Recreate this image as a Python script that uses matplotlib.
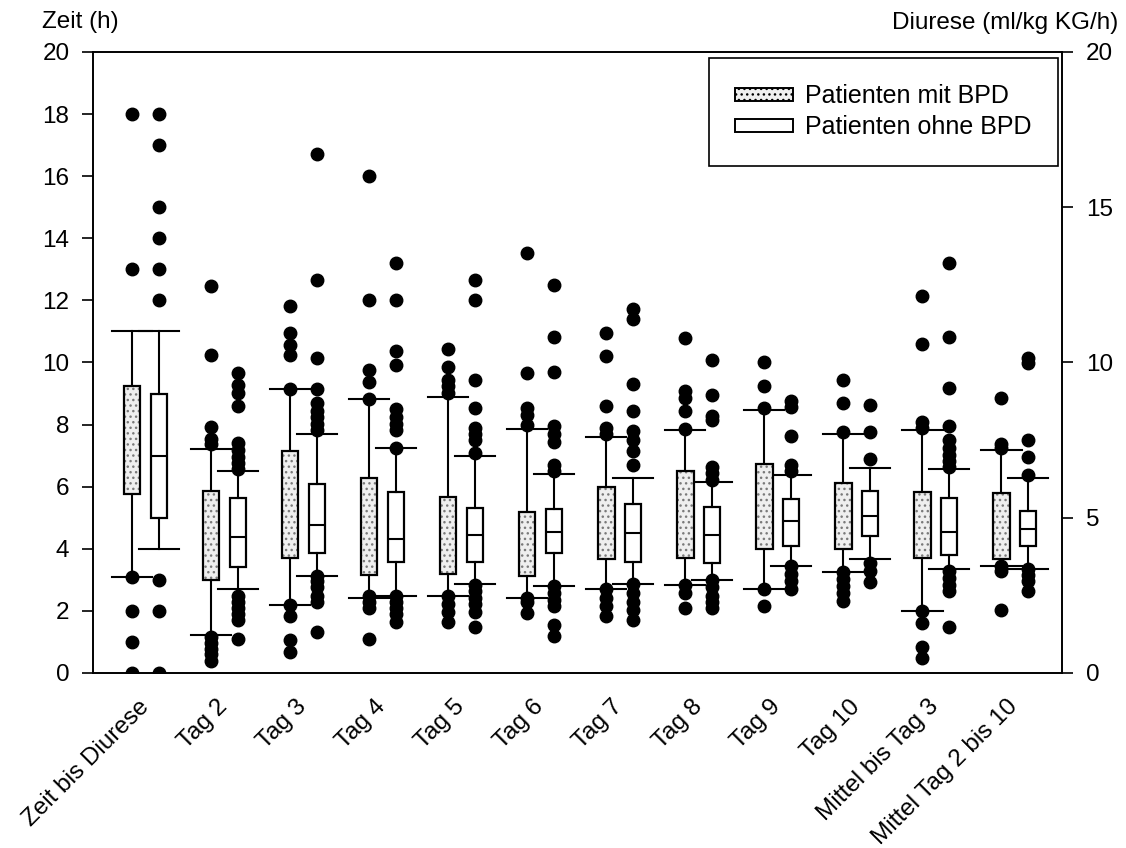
import matplotlib.pyplot as plt
from matplotlib.patches import Patch, PathPatch

plt.rcParams['font.family'] = ['Liberation Sans', 'DejaVu Sans']
plt.rcParams['font.size'] = 17.5

kategorien = ['Zeit bis Diurese', 'Tag 2', 'Tag 3', 'Tag 4', 'Tag 5', 'Tag 6',
              'Tag 7', 'Tag 8', 'Tag 9', 'Tag 10', 'Mittel bis Tag 3',
              'Mittel Tag 2 bis 10']

# Patienten mit BPD
mit_q1 = [5.75, 2.99, 3.69, 3.16, 3.20, 3.12, 3.67, 3.69, 3.99, 3.99, 3.69, 3.67]
mit_median = [7.0, 4.16, 4.49, 4.12, 4.60, 4.07, 4.28, 4.43, 5.29, 5.16, 4.49, 4.79]
mit_q3 = [9.25, 5.85, 7.16, 6.29, 5.67, 5.20, 6.00, 6.49, 6.72, 6.13, 5.83, 5.79]
mit_lo = [3.1, 1.23, 2.19, 2.40, 2.47, 2.43, 2.69, 2.83, 2.69, 3.25, 2.0, 3.45]
mit_hi = [11.0, 7.20, 9.16, 8.81, 8.89, 7.87, 7.60, 7.83, 8.47, 7.69, 7.83, 7.19]
mit_ausreisser = [
    [18, 13, 3.1, 2, 1, 0],
    [12.45, 10.23, 7.92, 7.52, 7.36, 1.16, 0.96, 0.76, 0.6, 0.4],
    [11.81, 10.95, 10.56, 10.23, 9.16, 2.19, 1.83, 1.05, 0.69],
    [16.01, 12.0, 9.76, 9.36, 8.81, 2.49, 2.29, 2.09, 1.09],
    [10.45, 9.85, 9.43, 9.23, 9.03, 2.47, 2.23, 1.96, 1.63],
    [13.52, 9.65, 8.52, 8.32, 7.99, 2.43, 2.29, 1.92],
    [10.96, 10.2, 8.59, 7.89, 7.69, 2.69, 2.43, 2.16, 1.83],
    [10.79, 9.09, 8.87, 8.45, 7.85, 2.83, 2.56, 2.09],
    [10.01, 9.23, 8.52, 2.69, 2.16],
    [9.43, 8.69, 7.76, 3.25, 3.03, 2.79, 2.56, 2.33],
    [12.13, 10.59, 8.09, 7.89, 2.0, 1.6, 0.83, 0.49],
    [8.85, 7.36, 7.23, 3.43, 3.27, 2.03],
]

# Patienten ohne BPD
ohne_q1 = [5.0, 3.40, 3.87, 3.56, 3.56, 3.85, 3.56, 3.53, 4.09, 4.40, 3.79, 4.09]
ohne_median = [7.0, 4.39, 4.76, 4.32, 4.43, 4.55, 4.52, 4.45, 4.89, 5.05, 4.53, 4.63]
ohne_q3 = [9.0, 5.63, 6.09, 5.83, 5.32, 5.27, 5.43, 5.36, 5.59, 5.85, 5.65, 5.23]
ohne_lo = [4.0, 2.72, 3.13, 2.49, 2.87, 2.79, 2.87, 3.0, 3.45, 3.67, 3.36, 3.36]
ohne_hi = [11.0, 6.52, 7.69, 7.23, 7.0, 6.40, 6.29, 6.16, 6.39, 6.60, 6.56, 6.29]
ohne_ausreisser = [
    [18, 17, 15, 14, 13, 12, 3, 2, 0],
    [9.67, 9.29, 9.03, 8.59, 7.4, 7.19, 6.96, 6.76, 6.56, 2.49, 2.29, 2.09, 1.89, 1.69, 1.09],
    [16.71, 12.65, 10.13, 9.16, 8.69, 8.45, 8.23, 8.03, 7.83, 3.13, 2.96, 2.76, 2.49, 2.29, 1.33],
    [13.19, 12.01, 10.36, 9.93, 8.49, 8.23, 8.03, 7.83, 7.23, 2.49, 2.29, 2.09, 1.89, 1.63],
    [12.65, 12.01, 9.43, 8.52, 7.89, 7.69, 7.49, 7.07, 2.83, 2.63, 2.43, 2.23, 1.96, 1.49],
    [12.49, 10.83, 9.69, 7.96, 7.69, 7.43, 6.69, 6.49, 2.79, 2.56, 2.36, 2.16, 1.56, 1.2],
    [11.72, 11.4, 9.32, 8.45, 7.8, 7.49, 7.16, 6.69, 2.87, 2.56, 2.29, 2.03, 1.69],
    [10.09, 8.96, 8.29, 8.16, 6.63, 6.43, 6.23, 3.0, 2.76, 2.49, 2.29, 2.09],
    [8.76, 8.56, 7.63, 6.69, 6.49, 3.43, 3.2, 2.95, 2.7],
    [8.63, 7.76, 6.89, 3.53, 3.29, 2.92],
    [13.19, 10.81, 9.19, 7.96, 7.49, 7.23, 7.03, 6.83, 6.63, 3.29, 3.05, 2.83, 2.63, 1.49],
    [10.16, 9.99, 7.49, 6.96, 6.39, 3.36, 3.16, 2.96, 2.65],
]


def statistik(q1, med, q3, lo, hi, aus):
    return [dict(q1=a, med=m, q3=b, whislo=l, whishi=h, fliers=f)
            for a, m, b, l, h, f in zip(q1, med, q3, lo, hi, aus)]


fig = plt.figure(figsize=(11.26, 8.48), dpi=100)
ax = fig.add_axes([0.0826, 0.2064, 0.8606, 0.7323])

pos = list(range(1, len(kategorien) + 1))
versatz = 0.168
linie = dict(color='black', linewidth=1.5)
punkte = dict(marker='o', markerfacecolor='black', markeredgecolor='black',
              markersize=9, linestyle='none')

gruppen = [
    (statistik(mit_q1, mit_median, mit_q3, mit_lo, mit_hi, mit_ausreisser), -versatz, True),
    (statistik(ohne_q1, ohne_median, ohne_q3, ohne_lo, ohne_hi, ohne_ausreisser), versatz, False),
]
for stats, dx, gepunktet in gruppen:
    bp = ax.bxp(stats, positions=[p + dx for p in pos], widths=0.207,
                capwidths=0.51, patch_artist=True, showfliers=True,
                boxprops=dict(facecolor='white', edgecolor='black', linewidth=1.6),
                medianprops=linie, whiskerprops=linie, capprops=linie,
                flierprops=punkte, manage_ticks=False)
    if gepunktet:
        # Punktraster unter dem Kastenrand
        for box in bp['boxes']:
            box.set_facecolor('none')
            box.set_zorder(2.2)
            raster = PathPatch(box.get_path(), facecolor='#efefef',
                               edgecolor='#7a7a7a', linewidth=0, hatch='...',
                               zorder=2.1)
            ax.add_patch(raster)

ax.set_xlim(0.335, 12.6)
ax.set_ylim(0, 20)
ax.set_yticks(range(0, 21, 2))
ax.set_xticks(pos)
ax.set_xticklabels(kategorien, rotation=45, ha='right', va='center',
                   rotation_mode='anchor')
ax.tick_params(axis='x', length=0, pad=22)
ax.tick_params(axis='y', length=8, width=1.2, pad=9, direction='out')
for s in ax.spines.values():
    s.set_linewidth(1.2)

ax2 = ax.twinx()
ax2.set_ylim(0, 20)
ax2.set_yticks([0, 5, 10, 15, 20])
ax2.tick_params(axis='y', length=8, width=1.2, pad=9, direction='out')
for s in ax2.spines.values():
    s.set_linewidth(1.2)

fig.text(42 / 1126, 1 - 22 / 848, 'Zeit (h)', ha='left', va='center')
fig.text(1118 / 1126, 1 - 23 / 848, 'Diurese (ml/kg KG/h)', ha='right', va='center')

handles = [
    Patch(facecolor='#efefef', edgecolor='black', linewidth=1.4, hatch='...'),
    Patch(facecolor='white', edgecolor='black', linewidth=1.4),
]
leg = ax2.legend(handles, ['Patienten mit BPD', 'Patienten ohne BPD'],
                 loc='upper right', bbox_to_anchor=(0.996, 0.990),
                 borderaxespad=0, fancybox=False, framealpha=1,
                 edgecolor='black', fontsize=18, handlelength=2.3,
                 handleheight=0.4, handletextpad=0.5, labelspacing=0.28,
                 borderpad=1.05)
leg.get_frame().set_linewidth(1.2)

plt.savefig('out.png', dpi=100)
